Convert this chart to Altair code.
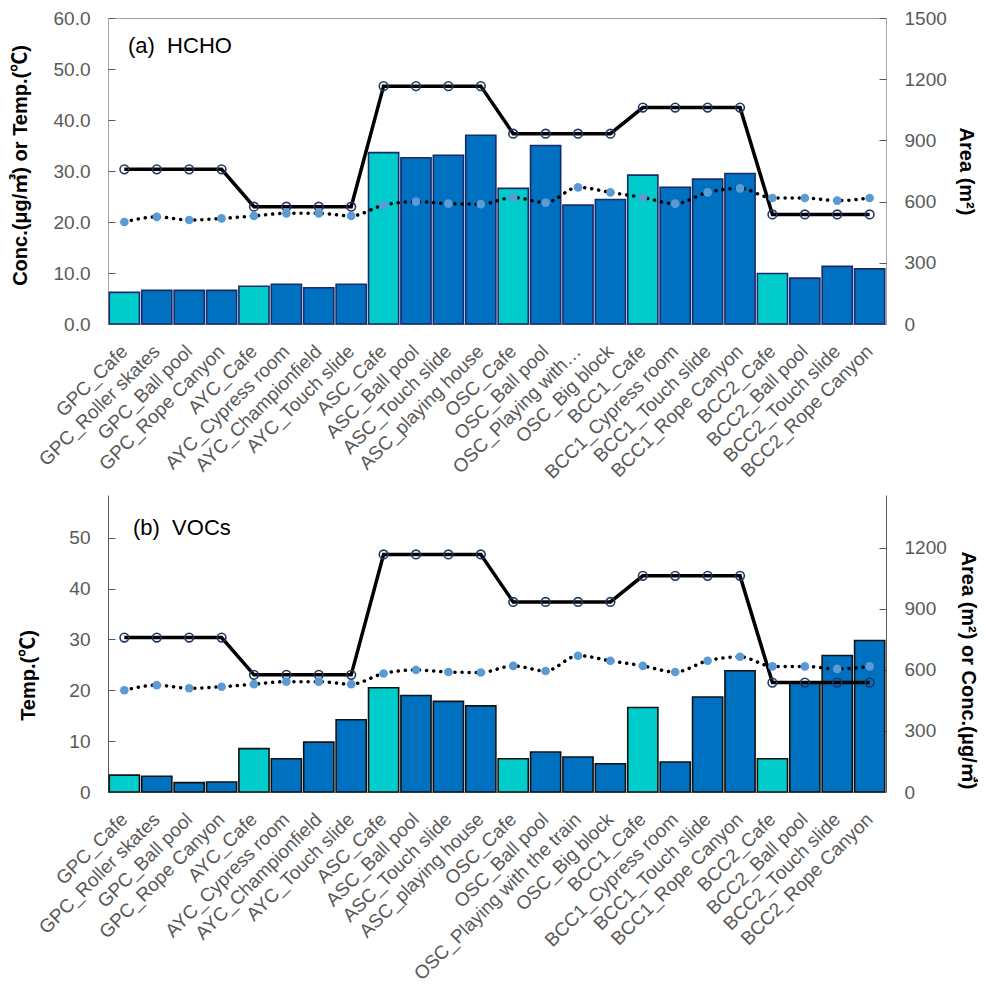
import altair as alt
import pandas as pd

locations = [
    "GPC_Cafe", "GPC_Roller skates", "GPC_Ball pool", "GPC_Rope Canyon",
    "AYC_Cafe", "AYC_Cypress room", "AYC_Championfield", "AYC_Touch slide",
    "ASC_Cafe", "ASC_Ball pool", "ASC_Touch slide", "ASC_playing house",
    "OSC_Cafe", "OSC_Ball pool", "OSC_Playing with the train", "OSC_Big block",
    "BCC1_Cafe", "BCC1_Cypress room", "BCC1_Touch slide", "BCC1_Rope Canyon",
    "BCC2_Cafe", "BCC2_Ball pool", "BCC2_Touch slide", "BCC2_Rope Canyon",
]
kinds = [
    "Cafe", "Play", "Play", "Play",
    "Cafe", "Play", "Play", "Play",
    "Cafe", "Play", "Play", "Play",
    "Cafe", "Play", "Play", "Play",
    "Cafe", "Play", "Play", "Play",
    "Cafe", "Play", "Play", "Play",
]
hcho = [6.2, 6.6, 6.6, 6.6, 7.4, 7.8, 7.1, 7.8,
        33.6, 32.6, 33.1, 37.0, 26.6, 35.0, 23.3, 24.4,
        29.2, 26.8, 28.4, 29.5, 9.9, 9.0, 11.3, 10.8]
vocs = [83, 77, 46, 49, 213, 163, 245, 355,
        512, 474, 445, 423, 163, 196, 172, 139,
        415, 147, 466, 595, 163, 540, 670, 744]
area = [758, 758, 758, 758, 575, 575, 575, 575,
        1166, 1166, 1166, 1166, 933, 933, 933, 933,
        1061, 1061, 1061, 1061, 537, 537, 537, 537]
temp = [20.0, 21.0, 20.4, 20.7, 21.2, 21.7, 21.7, 21.2,
        23.3, 24.0, 23.6, 23.5, 24.8, 23.8, 26.8, 25.8,
        24.8, 23.6, 25.8, 26.6, 24.7, 24.7, 24.2, 24.7]

title_a = "(a)\u00a0\u00a0HCHO"
title_b = "(b)\u00a0\u00a0VOCs"
short_label = "OSC_Playing with\u2026"

left_title_a = "Conc.(\u03bcg/\u33a5) or Temp.(\u2103)"
right_title_a = "Area (m\u00b2)"
left_title_b = "Temp.(\u2103)"
right_title_b = "Area (m\u00b2) or Conc.(\u03bcg/\u33a5)"

left_ticks_a = [0, 10, 20, 30, 40, 50, 60]
right_ticks_a = [0, 300, 600, 900, 1200, 1500]
left_ticks_b = [0, 10, 20, 30, 40, 50]
right_ticks_b = [0, 300, 600, 900, 1200]

df = pd.DataFrame({
    "location": locations, "kind": kinds, "hcho": hcho, "vocs": vocs,
    "area": area, "temp": temp,
})

FONT = "Liberation Sans, Noto Sans CJK KR"
CYAN = "#00CCCC"
BLUE = "#0070C0"
GRAY = "#595959"
W = 778
H_A = 306
H_B = 297


def x_enc(label_expr=None):
    kw = dict(title=None, labelAngle=-45, labelFontSize=19, labelColor=GRAY,
              labelFont=FONT, labelPadding=24, ticks=False, domainColor="#A6A6A6",
              labelLimit=400, grid=False, labelAlign="right", labelBaseline="middle")
    if label_expr:
        kw["labelExpr"] = label_expr
    return alt.X("location:N", sort=locations,
                 scale=alt.Scale(paddingInner=0.07, paddingOuter=0.04),
                 axis=alt.Axis(**kw))


def y_axis(orient, title, values, fmt, title_x, title_y, domain):
    return alt.Axis(orient=orient, title=title, values=values, format=fmt,
                    labelFontSize=19, labelColor=GRAY, labelFont=FONT,
                    labelPadding=18, ticks=False, grid=True,
                    gridDash=[7, 3000], gridColor=GRAY, gridWidth=1,
                    domain=domain, domainColor=GRAY,
                    titleFont=FONT, titleFontSize=20, titleFontWeight="bold",
                    titleColor="black", titleX=title_x, titleY=title_y,
                    titleBaseline="middle", titleAngle=(-90 if orient == "left" else 90))


color = alt.Color("kind:N", scale=alt.Scale(domain=["Cafe", "Play"], range=[CYAN, BLUE]),
                  legend=None)


def panel(bar_field, bar_dom, bar_axis, bar_stroke, temp_dom, temp_axis, area_dom,
          area_axis, xlab, title_text, tx, ty, h):
    base = alt.Chart(df)
    xe = x_enc(xlab)
    bars = base.mark_bar(stroke=bar_stroke, strokeWidth=1.6).encode(
        x=xe,
        y=alt.Y(f"{bar_field}:Q", scale=alt.Scale(domain=bar_dom, nice=False, zero=True),
                axis=bar_axis),
        color=color,
    )
    area_line = base.mark_line(color="black", strokeWidth=3.5).encode(
        x=xe,
        y=alt.Y("area:Q", scale=alt.Scale(domain=area_dom, nice=False), axis=area_axis),
    )
    area_pts = base.mark_point(shape="circle", filled=False, stroke="#1F3864",
                               strokeWidth=1.6, size=75, opacity=1).encode(
        x=xe,
        y=alt.Y("area:Q", scale=alt.Scale(domain=area_dom, nice=False), axis=None),
    )
    temp_line = base.mark_line(color="black", strokeWidth=3.5, strokeDash=[0.1, 7],
                               strokeCap="round", interpolate="monotone").encode(
        x=xe,
        y=alt.Y("temp:Q", scale=alt.Scale(domain=temp_dom, nice=False), axis=temp_axis),
    )
    temp_pts = base.mark_circle(size=75, color="#5B9BD5", opacity=1).encode(
        x=xe,
        y=alt.Y("temp:Q", scale=alt.Scale(domain=temp_dom, nice=False), axis=None),
    )
    label = alt.Chart(pd.DataFrame({"t": [title_text]})).mark_text(
        font=FONT, fontSize=22, color="black", align="left", baseline="middle"
    ).encode(x=alt.value(tx), y=alt.value(ty), text="t:N")
    return alt.layer(bars, area_line, area_pts, temp_line, temp_pts, label).resolve_scale(
        y="independent").properties(width=W, height=h)


label_expr_a = f"datum.label == '{locations[14]}' ? '{short_label}' : datum.label"

panel_a = panel(
    "hcho", [0, 60],
    y_axis("left", left_title_a, left_ticks_a, ".1f", -88, 147, False),
    "#1B2A6B",
    [0, 60], None,
    [0, 1500], y_axis("right", right_title_a, right_ticks_a, "d", 79, 153, False),
    label_expr_a, title_a, 20, 28, H_A,
).properties(view=alt.ViewBackground(stroke="#A6A6A6", strokeWidth=1))

panel_b = panel(
    "vocs", [0, 1458],
    y_axis("right", right_title_b, right_ticks_b, "d", 81, 175, True),
    "#111111",
    [0, 58.4], y_axis("left", left_title_b, left_ticks_b, "d", -80, 180, True),
    [0, 1458], None,
    None, title_b, 25, 33, H_B,
)

chart = alt.vconcat(panel_a, panel_b, spacing=11).properties(
    padding={"left": 1, "top": 0, "right": 0, "bottom": 0}
).configure_view(stroke="transparent")

chart.save("out.html", embed_options={"renderer": "svg", "actions": False})
